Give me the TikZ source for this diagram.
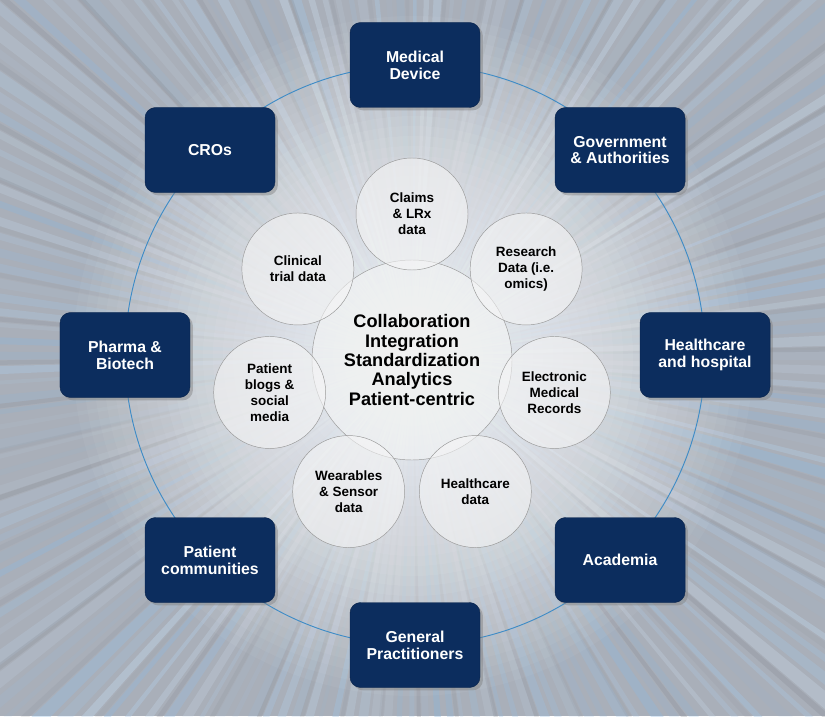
\documentclass[tikz,border=0pt]{standalone}
\usepackage{fontspec}
\setmainfont{Liberation Sans}
\usetikzlibrary{shadows, calc}
\definecolor{navy}{HTML}{0C2D5E}
\definecolor{ringblue}{HTML}{3F8CC6}
\definecolor{bggray}{HTML}{A9AFB9}
\definecolor{raylight}{HTML}{86B4DE}

\begin{document}
\begin{tikzpicture}[
    x=0.03cm, y=0.03cm,
    party/.style={draw=navy!80!black, rounded corners=9pt, fill=navy, minimum width=3.9cm, minimum height=2.55cm,
        font=\fontsize{13.5}{14.3}\selectfont\bfseries, text=white, align=center,
        drop shadow={shadow xshift=2.5pt, shadow yshift=-2.5pt, opacity=0.45}},
    source/.style={circle, draw=gray!80, fill=gray!8, fill opacity=0.6, text opacity=1, minimum size=3.36cm,
        font=\fontsize{11.5}{13.6}\selectfont\bfseries, align=center, inner sep=0pt},
    hub/.style={circle, draw=gray!80, fill=gray!5, fill opacity=0.5, text opacity=1, minimum size=6cm,
        font=\fontsize{15.5}{16.5}\selectfont\bfseries, align=center},
    ring/.style={ringblue, line width=0.8pt},
]
\useasboundingbox (0,0) rectangle (825,716);

% Background burst
\begin{scope}
\clip (0,0) rectangle (825,716);
\fill[bggray] (0,0) rectangle (825,716);
\pgfmathsetseed{23}
\foreach \a in {0,2,...,358} {
    \pgfmathsetmacro\op{0.08+rnd*0.3}
    \pgfmathsetmacro\mix{40+rnd*60}
    \pgfmathsetmacro\wd{8+rnd*16}
    \fill[raylight!\mix!white, opacity=\op] (413,360) -- ++(\a-0.6:900) -- ++(\a+90:\wd) -- cycle;
}
\foreach \a in {1,7,...,355} {
    \pgfmathsetmacro\op{0.1+rnd*0.2}
    \fill[bggray!80!black, opacity=\op] (413,360) -- ++(\a-0.4:900) -- ++(\a+90:10) -- cycle;
}
% glow round the hub
\foreach \r in {250,240,...,30}
    \fill[raylight!35!white, opacity=0.04] (413,360) circle (\r);
\foreach \r in {340,330,...,20}
    \fill[white, opacity=0.045] (413,360) circle (\r);
\end{scope}

% Outer ring
\coordinate (rc) at (415,361);
\draw[ring] (rc) circle (290);

% Stakeholders
\node[party] (md) at (415,651) {Medical\\Device};
\node[party] (gov) at (620,566) {Government\\\& Authorities};
\node[party] (hosp) at (705,361) {Healthcare\\and hospital};
\node[party] (acad) at (620,156) {Academia};
\node[party] (gp) at (415,71) {General\\Practitioners};
\node[party] (patc) at (210,156) {Patient\\communities};
\node[party] (pharma) at (125,361) {Pharma \&\\Biotech};
\node[party] (cros) at (210,566) {CROs};

% Hub
\node[hub] (core) at (412,356) {Collaboration\\Integration\\Standardization\\Analytics\\Patient-centric};

% Data sources around the hub
\node[source] (claims) at ($(core)+(90:146)$) {Claims\\\& LRx\\data};
\node[source] (research) at ($(core)+(38.57:146)$) {Research\\Data (i.e.\\omics)};
\node[source] (emr) at ($(core)+(-12.86:146)$) {Electronic\\Medical\\Records};
\node[source] (hcdata) at ($(core)+(-64.29:146)$) {Healthcare\\data};
\node[source] (wear) at ($(core)+(-115.71:146)$) {Wearables\\\& Sensor\\data};
\node[source] (blogs) at ($(core)+(-167.14:146)$) {Patient\\blogs \&\\social\\media};
\node[source] (clinical) at ($(core)+(141.43:146)$) {Clinical\\trial data};

\end{tikzpicture}
\end{document}
